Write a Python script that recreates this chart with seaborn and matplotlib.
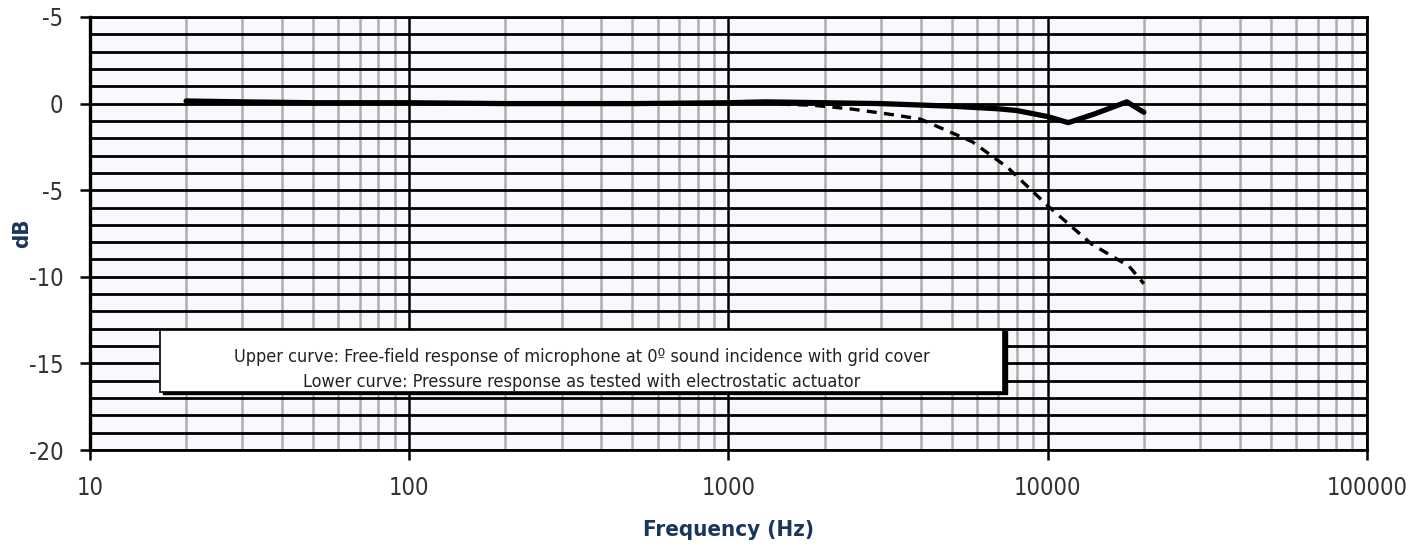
import matplotlib
matplotlib.use("Agg")
import matplotlib.pyplot as plt
from matplotlib import font_manager
from matplotlib.patches import Rectangle
from matplotlib.ticker import FixedLocator
import pandas as pd
import seaborn as sns

# free-field response (upper curve)
upper_freq = [20, 30, 50, 100, 200, 500, 1000, 1300, 2000, 3000, 5000, 7000, 8000, 10000, 11600, 14000, 17700, 20000]
upper_db = [0.15, 0.1, 0.05, 0.05, 0.0, 0.0, 0.05, 0.1, 0.05, 0.0, -0.15, -0.3, -0.4, -0.75, -1.1, -0.6, 0.1, -0.5]

# pressure response (lower curve)
lower_freq = [1000, 1300, 1850, 2400, 3300, 4000, 5800, 7500, 10000, 13700, 18000, 20000]
lower_db = [0.0, 0.0, -0.1, -0.3, -0.65, -0.9, -2.2, -3.7, -5.9, -8.1, -9.4, -10.4]

x_ticks = [10, 100, 1000, 10000, 100000]
x_labels = ["10", "100", "1000", "10000", "100000"]
y_ticks = [5, 0, -5, -10, -15, -20]
y_labels = ["-5", "0", "-5", "-10", "-15", "-20"]

legend_lines = [
    "Upper curve: Free-field response of microphone at 0\u00ba sound incidence with grid cover",
    "Lower curve: Pressure response as tested with electrostatic actuator",
]

sns.set_style("white")

# pick a narrow face if one is installed
names = {f.name for f in font_manager.fontManager.ttflist}
narrow = [n for n in ["Liberation Sans Narrow", "DejaVu Sans Condensed"] if n in names]
plt.rcParams["font.family"] = narrow + ["DejaVu Sans"]
plt.rcParams["font.stretch"] = "condensed"

navy = "#1b365d"
grey = "#b3acab"

fig = plt.figure(figsize=(14.22, 5.48), dpi=100)
ax = fig.add_axes([0.0633, 0.1788, 0.898, 0.7902])
ax.set_facecolor("#f7f9fc")

ax.set_xscale("log")
ax.set_xlim(10, 100000)
ax.set_ylim(-20, 5)

# grid: grey minor verticals, black horizontals, black decade verticals
minor = [m * 10 ** d for d in range(1, 5) for m in range(2, 10)]
for f in minor:
    ax.axvline(f, color=grey, lw=1.8, zorder=1)
for v in range(-20, 6):
    ax.axhline(v, color="black", lw=2.0, zorder=2)
for f in x_ticks:
    ax.axvline(f, color="black", lw=1.8, zorder=3)

upper = pd.DataFrame({"freq": upper_freq, "db": upper_db})
lower = pd.DataFrame({"freq": lower_freq, "db": lower_db})
sns.lineplot(data=lower, x="freq", y="db", ax=ax, color="black", lw=2.4,
             zorder=5)
ax.lines[-1].set_dashes((3, 2.2))
sns.lineplot(data=upper, x="freq", y="db", ax=ax, color="black", lw=3.8,
             zorder=6)

# caption box with shadow
ax.add_patch(Rectangle((0.057, 0.129), 0.661, 0.147, transform=ax.transAxes,
                       facecolor="black", edgecolor="black", zorder=7))
ax.add_patch(Rectangle((0.055, 0.134), 0.660, 0.144, transform=ax.transAxes,
                       facecolor="white", edgecolor="black", lw=1.2, zorder=8))
ax.text(0.385, 0.214, legend_lines[0], transform=ax.transAxes, ha="center",
        va="center", fontsize=13, color="#222222", zorder=9)
ax.text(0.385, 0.157, legend_lines[1], transform=ax.transAxes, ha="center",
        va="center", fontsize=13, color="#222222", zorder=9)

ax.xaxis.set_major_locator(FixedLocator(x_ticks))
ax.xaxis.set_minor_locator(FixedLocator([]))
ax.set_xticks(x_ticks)
ax.set_xticklabels(x_labels)
ax.set_yticks(y_ticks)
ax.set_yticklabels(y_labels)
ax.tick_params(axis="both", which="major", direction="out", length=7,
               width=1.8, color="black", labelsize=17, labelcolor="#333333")
ax.tick_params(axis="x", pad=12)
ax.tick_params(axis="y", pad=12)
ax.tick_params(left=True, bottom=True)

for side in ["top", "right", "left", "bottom"]:
    ax.spines[side].set_color("black")
    ax.spines[side].set_linewidth(2.0)
    ax.spines[side].set_zorder(4)
ax.spines["left"].set_linewidth(2.4)

ax.set_xlabel("Frequency (Hz)", fontsize=16, fontweight="bold", color=navy,
              labelpad=14)
ax.set_ylabel("dB", fontsize=16, fontweight="bold", color=navy)
ax.yaxis.set_label_coords(-0.045, 0.5)

fig.savefig("out.png", dpi=100)
